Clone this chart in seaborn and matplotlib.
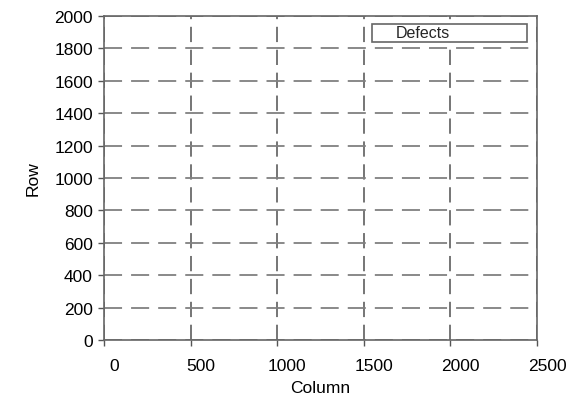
import matplotlib
matplotlib.use("Agg")
import matplotlib.pyplot as plt
import matplotlib.transforms as mtransforms
import seaborn as sns
import pandas as pd

sns.set_theme(style="white")
plt.rcParams['font.family'] = ['Liberation Sans', 'DejaVu Sans']

# Data: no defect points are visible in the chart
defect_columns = []
defect_rows = []
series_label = "Defects"

x_ticks = [0, 500, 1000, 1500, 2000, 2500]
y_ticks = [0, 200, 400, 600, 800, 1000, 1200, 1400, 1600, 1800, 2000]

df = pd.DataFrame({"Column": pd.Series(defect_columns, dtype=float),
                   "Row": pd.Series(defect_rows, dtype=float)})

fig = plt.figure(figsize=(5.71, 4.02), dpi=100)
ax = fig.add_axes([104/571, 1 - 341/402, (537-104)/571, (341-17)/402])

ax.scatter(df["Column"], df["Row"], s=0, label=series_label)

ax.set_xlim(x_ticks[0], x_ticks[-1])
ax.set_ylim(y_ticks[0], y_ticks[-1])
ax.set_xticks(x_ticks)
ax.set_yticks(y_ticks)
ax.set_xticklabels([str(v) for v in x_ticks], fontsize=12.5, color='black')
ax.set_yticklabels([str(v) for v in y_ticks], fontsize=12.5, color='black')

ax.tick_params(axis='both', which='both', direction='out', length=4, width=1,
               color='#555555', pad=4, bottom=True, left=True)
ax.tick_params(axis='x', pad=9)

# shift x tick labels slightly to the right as in the reference
offset = mtransforms.ScaledTranslation(10/100, 0, fig.dpi_scale_trans)
for tick in ax.xaxis.get_major_ticks():
    tick.label1.set_transform(tick.label1.get_transform() + offset)

ax.grid(True, which='major', linestyle=(0, (10, 5)), linewidth=1.3)
for gl in ax.get_ygridlines():
    gl.set_color('#808080')
for gl in ax.get_xgridlines():
    gl.set_color('#505050')
    gl.set_linewidth(1.1)

for sp in ax.spines.values():
    sp.set_color('#666666')
    sp.set_linewidth(1.2)

ax.set_xlabel("Column", fontsize=12.5, color='black', labelpad=5)
ax.set_ylabel("Row", fontsize=12.5, color='black', labelpad=10)

# legend box spanning the top-right
x0 = (372 - 104) / (537 - 104)
w = (527 - 372) / (537 - 104)
y_top = (341 - 22) / (341 - 17)
h = (43 - 22) / (341 - 17)
leg = ax.legend(loc='lower left', bbox_to_anchor=(x0, y_top - h, w, h), mode='expand',
                frameon=True, fancybox=False, fontsize=11.5, handlelength=0.8,
                borderpad=0.1, borderaxespad=0, handletextpad=0.6)
leg.get_frame().set_edgecolor('#666666')
leg.get_frame().set_linewidth(1.2)
leg.get_frame().set_facecolor('white')
leg.get_frame().set_alpha(1)

fig.savefig("out.png", dpi=100, facecolor='white')
